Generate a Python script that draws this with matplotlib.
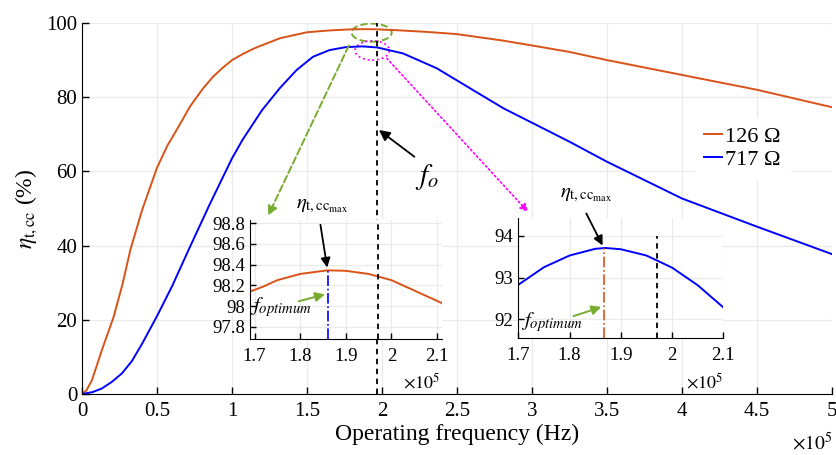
import matplotlib
matplotlib.use("Agg")
import matplotlib.pyplot as plt
from matplotlib.patches import Ellipse
from matplotlib.ticker import FuncFormatter

plt.rcParams['font.family'] = ['Liberation Serif', 'DejaVu Serif']
plt.rcParams['mathtext.fontset'] = 'stix'

# --- datos ---
f_126 = [0, 0.03e5, 0.067e5, 0.133e5, 0.211e5, 0.27e5, 0.322e5, 0.4e5, 0.5e5, 0.57e5,
         0.65e5, 0.72e5, 0.8e5, 0.873e5, 0.94e5, 1.0e5, 1.07e5, 1.15e5, 1.32e5, 1.5e5,
         1.65e5, 1.8e5, 1.87e5, 1.95e5, 2.1e5, 2.3e5, 2.5e5, 2.8e5, 3.05e5, 3.25e5,
         3.5e5, 4.0e5, 4.5e5, 5.0e5]
eta_126 = [0, 1.0, 3.8, 11.9, 20.8, 29.6, 38.8, 49.5, 61.0, 67.0,
           72.5, 77.5, 82.0, 85.5, 88.0, 90.0, 91.6, 93.2, 95.9, 97.5,
           98.0, 98.3, 98.34, 98.32, 98.05, 97.6, 97.0, 95.3, 93.6, 92.2,
           90.0, 86.0, 82.0, 77.3]

f_717 = [0, 0.07e5, 0.133e5, 0.2e5, 0.267e5, 0.333e5, 0.4e5, 0.5e5, 0.6e5, 0.71e5,
         0.85e5, 1.0e5, 1.07e5, 1.2e5, 1.32e5, 1.43e5, 1.54e5, 1.65e5, 1.76e5, 1.87e5,
         1.97e5, 2.14e5, 2.365e5, 2.587e5, 2.81e5, 3.03e5, 3.25e5, 3.5e5, 4.0e5, 4.5e5, 5.0e5]
eta_717 = [0, 0.5, 1.5, 3.3, 5.6, 8.9, 13.5, 21.0, 29.0, 38.8,
           51.0, 63.5, 68.5, 76.5, 82.5, 87.3, 90.9, 92.7, 93.5, 93.7,
           93.4, 91.8, 87.8, 82.4, 77.0, 72.5, 68.0, 62.6, 52.7, 45.1, 37.7]

# zoom alrededor del maximo
f_zoom1 = [1.69e5, 1.72e5, 1.75e5, 1.8e5, 1.86e5, 1.9e5, 1.95e5, 2.0e5, 2.05e5, 2.11e5]
eta_zoom1 = [98.14, 98.19, 98.25, 98.31, 98.345, 98.34, 98.31, 98.25, 98.15, 98.03]
f_zoom2 = [1.7e5, 1.75e5, 1.8e5, 1.85e5, 1.87e5, 1.9e5, 1.95e5, 2.0e5, 2.05e5, 2.1e5]
eta_zoom2 = [92.83, 93.25, 93.53, 93.69, 93.71, 93.68, 93.53, 93.24, 92.82, 92.29]

f_o = 1.97e5
f_opt1 = 1.86e5
f_opt2 = 1.867e5

naranja = '#D95319'
azul = '#0000FF'
verde = '#77AC30'
magenta = '#FF00FF'
gris = '#ebebeb'

W, H = 837, 455
def px(x, y):
    return (x / W, 1 - y / H)

fig = plt.figure(figsize=(8.37, 4.55), dpi=100)
ax = fig.add_axes([82 / W, 1 - 394 / H, 750 / W, 371 / H])

ax.plot(f_126, eta_126, color=naranja, lw=1.4, label='126 Ω')
ax.plot(f_717, eta_717, color=azul, lw=1.4, label='717 Ω')
ax.plot([f_o, f_o], [0, 100], color='black', ls=(0, (3, 2.5)), lw=1.3)

ax.set_xlim(0, 5e5)
ax.set_ylim(0, 100)
ax.set_xticks([i * 0.5e5 for i in range(11)])
ax.set_yticks([0, 20, 40, 60, 80, 100])
ax.xaxis.set_major_formatter(FuncFormatter(lambda v, p: f"{v / 1e5:g}"))
ax.tick_params(direction='in', labelsize=15, length=5, width=1)
ax.tick_params(axis='x', pad=6)
ax.grid(True, color=gris, lw=0.9)
ax.set_axisbelow(True)
for s in ['top', 'right']:
    ax.spines[s].set_visible(False)
ax.set_xlabel('Operating frequency (Hz)', fontsize=17, labelpad=2)
ax.set_ylabel(r'$\eta_{\mathrm{t,cc}}$ (%)', fontsize=17, labelpad=4)
fig.text(*px(812, 443), r'$\times10^5$', fontsize=14, ha='center', va='center')

leg = ax.legend(loc='upper left', bbox_to_anchor=(0.818, 0.745), fontsize=16,
                handlelength=0.8, handletextpad=0.15, borderaxespad=0,
                fancybox=False, edgecolor='white', framealpha=1, labelspacing=0.1)

# elipses y flechas
ax.add_patch(Ellipse((1.931e5, 97.4), 0.267e5, 4.9, fill=False, ec=verde, ls='--', lw=1.4))
ax.add_patch(Ellipse((1.935e5, 92.6), 0.229e5, 5.2, fill=False, ec=magenta, ls=':', lw=1.3))
ax.annotate('', xy=(1.233e5, 47.4), xytext=(1.787e5, 94.6),
            arrowprops=dict(arrowstyle='-|>', color=verde, ls='--', lw=1.4, mutation_scale=14))
ax.annotate('', xy=(2.987e5, 48.5), xytext=(2.02e5, 91.0),
            arrowprops=dict(arrowstyle='-|>', color=magenta, ls=':', lw=1.2, mutation_scale=12))
ax.annotate('', xy=(1.965e5, 71.6), xytext=(2.231e5, 63.5),
            arrowprops=dict(arrowstyle='-|>', color='black', lw=1.3, mutation_scale=16))
fig.text(*px(427, 177), r'$f_o$', fontsize=21, ha='center', va='center')

# --- inset 1 (126 ohm) ---
ax1 = fig.add_axes([250 / W, 1 - 339.3 / H, 191.7 / W, 119.3 / H])
ax1.plot(f_zoom1, eta_zoom1, color=naranja, lw=1.4)
ax1.plot([f_opt1, f_opt1], [97.68, eta_zoom1[4]], color=azul, ls='-.', lw=1.2)
ax1.plot([f_o, f_o], [97.68, 98.83], color='black', ls=(0, (3, 2.5)), lw=1.3)
ax1.set_xlim(1.69e5, 2.11e5)
ax1.set_ylim(97.68, 98.83)
ax1.set_xticks([1.7e5, 1.8e5, 1.9e5, 2.0e5, 2.1e5])
ax1.set_yticks([97.8, 98.0, 98.2, 98.4, 98.6, 98.8])
ax1.yaxis.set_major_formatter(FuncFormatter(lambda v, p: f"{v:g}"))
ax1.annotate('', xy=(f_opt1, eta_zoom1[4]), xytext=px(320, 222), textcoords='figure fraction',
             arrowprops=dict(arrowstyle='-|>', color='black', lw=1.3, mutation_scale=14))
ax1.annotate('', xy=(f_opt1, 98.12), xytext=px(296, 302), textcoords='figure fraction',
             arrowprops=dict(arrowstyle='-|>', color=verde, lw=1.4, mutation_scale=14))
fig.text(*px(322, 206), r'$\eta_{\mathrm{t,cc}_{\mathrm{max}}}$', fontsize=15, ha='center', va='center')
fig.text(*px(281, 307), r'$f_{optimum}$', fontsize=15, ha='center', va='center')
fig.text(*px(422, 382), r'$\times10^5$', fontsize=13, ha='center', va='center')

# --- inset 2 (717 ohm) ---
ax2 = fig.add_axes([518.3 / W, 1 - 338.3 / H, 205 / W, 120 / H])
ax2.plot(f_zoom2, eta_zoom2, color=azul, lw=1.4)
ax2.plot([f_opt2, f_opt2], [91.55, eta_zoom2[4]], color=naranja, ls='-.', lw=1.2)
ax2.plot([f_o, f_o], [91.55, 94.0], color='black', ls=(0, (3, 2.5)), lw=1.3)
ax2.set_xlim(1.7e5, 2.1e5)
ax2.set_ylim(91.55, 94.42)
ax2.set_xticks([1.7e5, 1.8e5, 1.9e5, 2.0e5, 2.1e5])
ax2.set_yticks([92, 93, 94])
ax2.annotate('', xy=(f_opt2, eta_zoom2[4]), xytext=px(585, 211), textcoords='figure fraction',
             arrowprops=dict(arrowstyle='-|>', color='black', lw=1.3, mutation_scale=14))
ax2.annotate('', xy=(f_opt2, 92.32), xytext=px(571, 317), textcoords='figure fraction',
             arrowprops=dict(arrowstyle='-|>', color=verde, lw=1.4, mutation_scale=14))
fig.text(*px(586, 194), r'$\eta_{\mathrm{t,cc}_{\mathrm{max}}}$', fontsize=15, ha='center', va='center')
fig.text(*px(552, 322), r'$f_{optimum}$', fontsize=15, ha='center', va='center')
fig.text(*px(705, 382), r'$\times10^5$', fontsize=13, ha='center', va='center')

for a in (ax1, ax2):
    a.xaxis.set_major_formatter(FuncFormatter(lambda v, p: f"{v / 1e5:g}"))
    a.tick_params(direction='in', labelsize=13.5, length=4, width=1)
    a.tick_params(axis='x', pad=6)
    a.grid(True, color=gris, lw=0.9)
    a.set_axisbelow(True)
    for s in ['top', 'right']:
        a.spines[s].set_visible(False)

fig.savefig('out.png', dpi=100)
